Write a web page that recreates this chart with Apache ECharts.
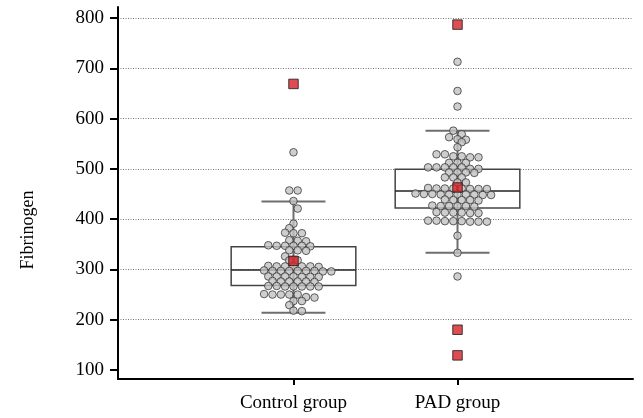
<!DOCTYPE html>
<html>
<head>
<meta charset="utf-8">
<script src="https://cdn.jsdelivr.net/npm/echarts@6/dist/echarts.min.js"></script>
<style>
  html, body { margin: 0; padding: 0; background: #fff; }
  #main { width: 643px; height: 418px; }
</style>
</head>
<body>
<div id="main"></div>
<script>
// groups on the x axis (value 1 and 2)
var categories = ['Control group', 'PAD group']
var yTicks = [100, 200, 300, 400, 500, 600, 700, 800]
var gridValues = [200, 300, 400, 500, 600, 700, 800]

// [low whisker, Q1, median, Q3, high whisker]
var controlBox = [214, 268, 299, 345, 435]
var padBox = [333, 422, 456, 499, 576]

var controlValues = [533, 457, 457, 436, 421, 391, 382, 372, 372, 373,
  358, 357, 356, 347, 347, 348, 347, 346, 347, 338, 337, 338, 326,
  318, 319, 318, 306, 306, 305, 306, 307, 306, 306,
  297, 297, 296, 297, 298, 297, 296, 297, 297,
  286, 286, 285, 286, 285, 286, 285,
  276, 276, 277, 276, 276, 275,
  266, 266, 267, 266, 266, 267, 266,
  250, 250, 251, 250, 250, 245, 244, 237, 237, 229, 218, 217]
var padValues = [713, 655, 624, 576, 569, 563, 559, 558, 553, 543,
  529, 529, 525, 525, 523, 523, 512, 512, 512,
  503, 503, 503, 503, 500, 503, 500, 493, 493, 493, 492, 483, 483, 483, 473, 473,
  461, 461, 460, 461, 462, 460, 461, 460,
  449, 449, 448, 450, 449, 451, 449, 448, 450, 449,
  438, 438, 437, 438, 439,
  426, 426, 427, 425, 426, 426,
  413, 413, 412, 413, 414, 412,
  397, 396, 395, 396, 395, 397, 396, 395,
  367, 333, 286]

// red squares (mean and extremes)
var controlRed = [317, 669]
var padRed = [787, 463, 180, 129]

var FONT = 'Liberation Serif'
var chart = echarts.init(document.getElementById('main'))

var option = {
  animation: false,
  backgroundColor: '#fff',
  grid: { left: 118, right: 10, top: 7, bottom: 39, outerBoundsMode: 'none' },
  xAxis: {
    type: 'value',
    min: -0.07,
    max: 3.07,
    splitLine: { show: false },
    axisLine: { show: true, onZero: false, lineStyle: { color: '#000', width: 2 } },
    axisTick: { show: true, length: 6, customValues: [1, 2], lineStyle: { color: '#000', width: 2 } },
    axisLabel: {
      customValues: [1, 2],
      color: '#000',
      fontFamily: FONT,
      fontSize: 19,
      margin: 15,
      formatter: function (v) {
        return categories[Math.round(v) - 1] || ''
      },
    },
  },
  yAxis: {
    type: 'value',
    min: 82,
    max: 822,
    splitLine: { show: false },
    axisLine: { show: true, onZero: false, lineStyle: { color: '#000', width: 2 } },
    axisTick: { show: true, length: 8, customValues: yTicks, lineStyle: { color: '#000', width: 2 } },
    axisLabel: { customValues: yTicks, color: '#000', fontFamily: FONT, fontSize: 19, margin: 14 },
  },
  graphic: [
    {
      type: 'text',
      x: 28,
      y: 230,
      rotation: Math.PI / 2,
      style: {
        text: 'Fibrinogen',
        fill: '#000',
        font: '18px "Liberation Serif"',
        align: 'center',
        verticalAlign: 'middle',
      },
    },
  ],
  series: [
    {
      type: 'custom',
      z: 1,
      data: [[1].concat(controlBox), [2].concat(padBox)],
      renderItem: function (params, api) {
        var x = api.value(0)
        var lo = api.value(1), q1 = api.value(2), med = api.value(3), q3 = api.value(4), hi = api.value(5)
        var bw = 0.38, cw = 0.195
        var a = api.coord([x - bw, q3])
        var b = api.coord([x + bw, q1])
        var m1 = api.coord([x - bw, med]), m2 = api.coord([x + bw, med])
        var top = api.coord([x, hi]), bot = api.coord([x, lo])
        var c1 = api.coord([x - cw, hi]), c2 = api.coord([x + cw, hi])
        var c3 = api.coord([x - cw, lo]), c4 = api.coord([x + cw, lo])
        var grey = { stroke: '#6e6e6e', lineWidth: 2 }
        return {
          type: 'group',
          children: [
            { type: 'line', shape: { x1: top[0], y1: top[1], x2: bot[0], y2: bot[1] }, style: grey },
            { type: 'line', shape: { x1: c1[0], y1: c1[1], x2: c2[0], y2: c2[1] }, style: grey },
            { type: 'line', shape: { x1: c3[0], y1: c3[1], x2: c4[0], y2: c4[1] }, style: grey },
            {
              type: 'rect',
              shape: { x: a[0], y: a[1], width: b[0] - a[0], height: b[1] - a[1] },
              style: { fill: 'rgba(255,255,255,0)', stroke: '#444', lineWidth: 1.5 },
            },
            { type: 'line', shape: { x1: m1[0], y1: m1[1], x2: m2[0], y2: m2[1] }, style: { stroke: '#222', lineWidth: 1.5 } },
          ],
        }
      },
      markLine: {
        silent: true,
        symbol: ['none', 'none'],
        label: { show: false },
        lineStyle: { color: '#777', type: [1, 1.5], width: 1 },
        data: gridValues.map(function (v) { return { yAxis: v } }),
        z: 0,
      },
    },
    {
      name: 'points',
      type: 'scatter',
      z: 3,
      symbol: 'circle',
      symbolSize: 7.6,
      itemStyle: { color: '#c2c2c2', borderColor: '#3a3a3a', borderWidth: 1 },
      data: [],
    },
    {
      name: 'red',
      type: 'scatter',
      z: 4,
      symbol: 'rect',
      symbolSize: 9.5,
      itemStyle: { color: '#d42027', borderColor: '#1a1a1a', borderWidth: 1 },
      data: controlRed.map(function (v) { return [1, v] }).concat(padRed.map(function (v) { return [2, v] })),
    },
  ],
}

chart.setOption(option)

// row-binned dot plot: values within a few pixels share a row, each row is
// spread evenly around the group centre; close rows are staggered by half a dot
function swarm(values, xc) {
  var d = 8.4, binH = 4
  var x0 = chart.convertToPixel({ gridIndex: 0 }, [xc, 0])[0]
  var pxPerUnit = chart.convertToPixel({ gridIndex: 0 }, [xc + 1, 0])[0] - x0
  var sorted = values.slice().sort(function (a, b) { return b - a })
  var rows = []
  var cur = null
  sorted.forEach(function (v) {
    var y = chart.convertToPixel({ gridIndex: 0 }, [xc, v])[1]
    if (!cur || y - cur.y0 > binH) {
      cur = { y0: y, vals: [] }
      rows.push(cur)
    }
    cur.vals.push(v)
  })
  var out = []
  var prev = null
  var flip = 1
  rows.forEach(function (r) {
    var n = r.vals.length
    r.shift = 0
    if (prev && r.y0 - prev.y0 < d) {
      var prevPhase = ((prev.vals.length - 1) / 2 + prev.shift / d) % 1
      var phase = ((n - 1) / 2) % 1
      if (Math.abs(Math.abs(prevPhase) - phase) < 0.25) {
        r.shift = flip * d / 2
        flip = -flip
      }
    }
    r.vals.forEach(function (v, i) {
      var dx = (i - (n - 1) / 2) * d + r.shift
      out.push([xc + dx / pxPerUnit, v])
    })
    prev = r
  })
  return out
}

chart.setOption({
  series: [{}, { data: swarm(controlValues, 1).concat(swarm(padValues, 2)) }, {}],
})
</script>
</body>
</html>
